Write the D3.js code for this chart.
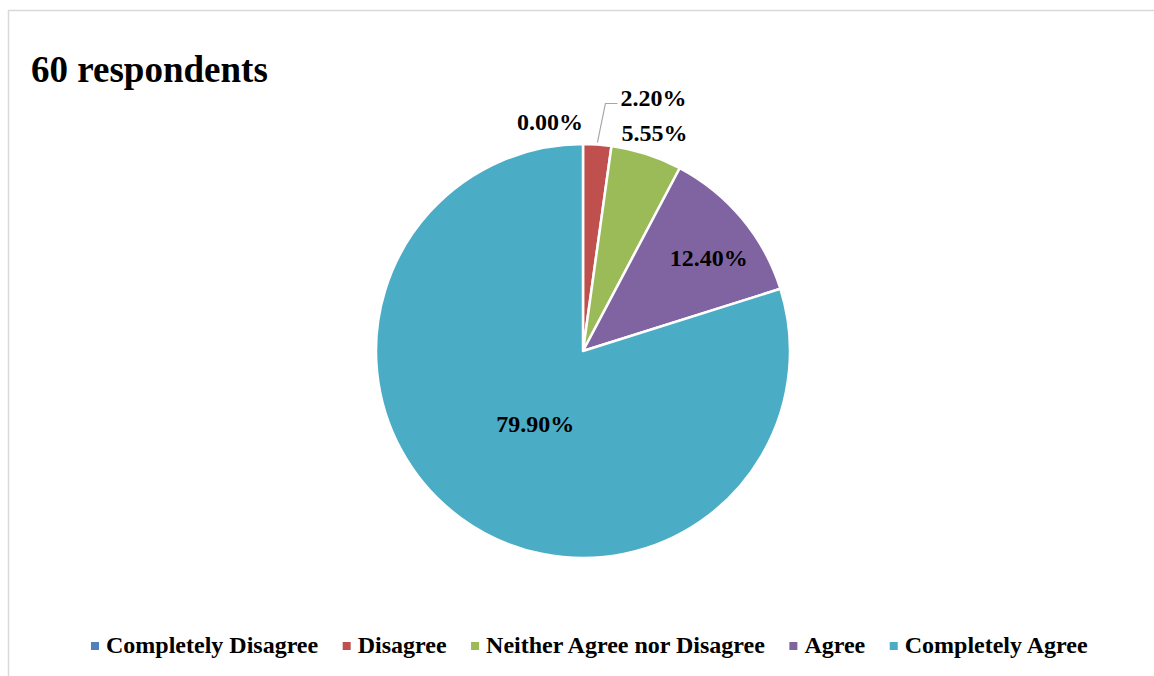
<!DOCTYPE html>
<html>
<head>
<meta charset="utf-8">
<script src="https://cdn.jsdelivr.net/npm/d3@7"></script>
<style>
  body { margin: 0; background: #fff; }
  text { font-family: "Liberation Serif", "Times New Roman", serif; font-weight: bold; }
</style>
</head>
<body>
<div id="wrapper"></div>
<script>
const categories = ["Completely Disagree", "Disagree", "Neither Agree nor Disagree", "Agree", "Completely Agree"];
const values = [0.00, 2.20, 5.55, 12.40, 79.90];
const labels = ["0.00%", "2.20%", "5.55%", "12.40%", "79.90%"];
const colors = ["#4F81BD", "#C0504D", "#9BBB59", "#8064A2", "#4BACC6"];

let dimensions = {
    width: 1154,
    height: 676,
    cx: 583,
    cy: 351,
    radius: 207
}

let wrapper = d3.select("#wrapper").append("svg")
    .attr("width", dimensions.width)
    .attr("height", dimensions.height);

// chart frame (cut off at right and bottom)
wrapper.append("rect")
    .attr("x", 8.5)
    .attr("y", 10.5)
    .attr("width", 1200)
    .attr("height", 700)
    .attr("fill", "none")
    .attr("stroke", "#d9d9d9")
    .attr("stroke-width", 1.5);

wrapper.append("text")
    .attr("x", 31)
    .attr("y", 82)
    .style("font-size", "37px")
    .attr("fill", "#000")
    .text("60 respondents");

const data = categories.map((c, i) => ({ name: c, value: values[i], label: labels[i], color: colors[i] }));

const pie = d3.pie().sort(null).value(d => d.value);
const arcs = pie(data);
const arc = d3.arc().innerRadius(0).outerRadius(dimensions.radius);

const container = wrapper.append("g")
    .attr("transform", `translate(${dimensions.cx}, ${dimensions.cy})`);

container.selectAll("path")
    .data(arcs)
    .enter()
    .append("path")
    .attr("d", arc)
    .attr("fill", d => d.data.color)
    .attr("stroke", "#fff")
    .attr("stroke-width", 2.5)
    .attr("stroke-linejoin", "round");

// inside labels: radius factor + vertical nudge (best-fit look)
const insideFit = { 3: [0.79, 20], 4: [0.39, 16] };

const r = dimensions.radius;
const mid = d => (d.startAngle + d.endAngle) / 2;

arcs.forEach(d => {
    let x, y, anchor = "middle";
    if (d.index === 0) {
        x = Math.sin(mid(d)) * r;
        y = -Math.cos(mid(d)) * r - 14;
        anchor = "end";
    } else if (d.index === 1) {
        // leader line
        const a = mid(d);
        const p0 = [Math.sin(a) * (r + 2), -Math.cos(a) * (r + 2)];
        const p1 = [Math.sin(a) * (r + 2) + 8, -Math.cos(a) * (r + 2) - 39];
        const p2 = [p1[0] + 12, p1[1]];
        container.append("polyline")
            .attr("points", [p0, p1, p2].map(p => p.join(",")).join(" "))
            .attr("fill", "none")
            .attr("stroke", "#a6a6a6")
            .attr("stroke-width", 1.2);
        x = p2[0] + 3;
        y = p2[1] + 2;
        anchor = "start";
    } else if (d.index === 2) {
        const a = d.startAngle;
        x = Math.sin(a) * r + 10;
        y = -Math.cos(a) * r - 5;
        anchor = "start";
    } else {
        const [f, dy] = insideFit[d.index];
        const c = d3.arc().innerRadius(r * f).outerRadius(r * f).centroid(d);
        x = c[0];
        y = c[1] + dy;
    }
    container.append("text")
        .attr("x", x)
        .attr("y", y)
        .attr("text-anchor", anchor)
        .style("font-size", "24px")
        .attr("fill", "#000")
        .text(d.data.label);
});

// legend
const legend = wrapper.append("g").attr("transform", "translate(0, 653)");
let lx = 91;
data.forEach(d => {
    legend.append("rect")
        .attr("x", lx)
        .attr("y", -11)
        .attr("width", 8)
        .attr("height", 8)
        .attr("fill", d.color);
    const t = legend.append("text")
        .attr("x", lx + 15)
        .attr("y", 0)
        .style("font-size", "24px")
        .attr("fill", "#000")
        .text(d.name);
    lx += 15 + t.node().getComputedTextLength() + 24.5;
});
</script>
</body>
</html>
